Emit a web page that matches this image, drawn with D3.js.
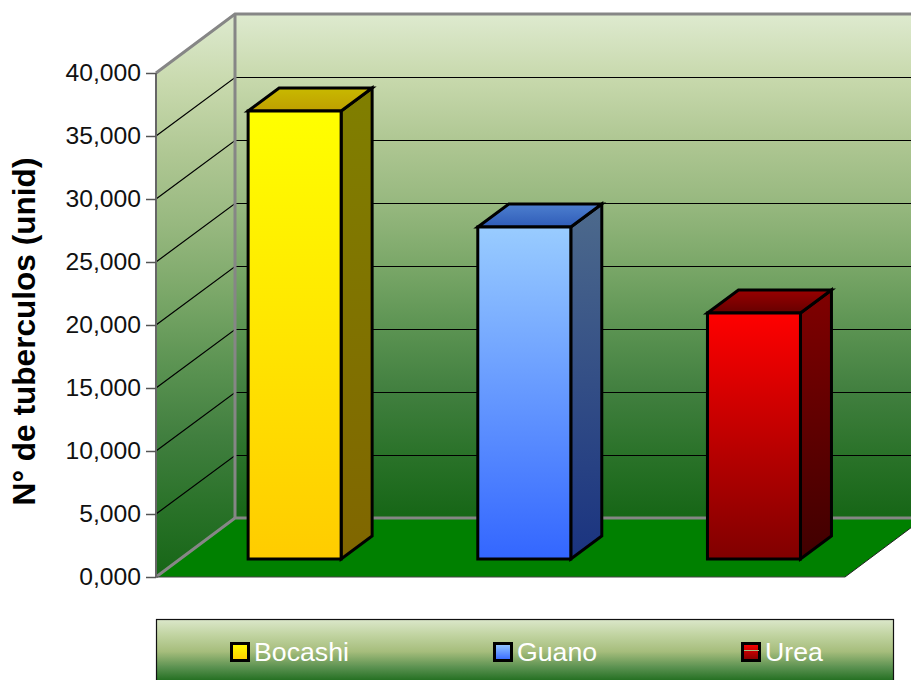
<!DOCTYPE html>
<html><head><meta charset="utf-8">
<style>html,body{margin:0;padding:0;background:#fff;overflow:hidden}svg{display:block}text{font-family:"Liberation Sans",Arial,sans-serif}</style>
<script src="https://cdn.jsdelivr.net/npm/d3@7"></script></head>
<body><svg id="c" width="911" height="680"></svg>
<script>
const categories = ["Bocashi","Guano","Urea"];
const values = [35550,26350,19530];
const tickValues = [0,5000,10000,15000,20000,25000,30000,35000,40000];
const tickLabels = ["0,000","5,000","10,000","15,000","20,000","25,000","30,000","35,000","40,000"];
const axisTitle = "N° de tuberculos (unid)";
const frontCols = [["#ffff00","#ffcc00"],["#99ccff","#3366ff"],["#ff0000","#800000"]];
const topCols = [["#c8b900","#bf9f00"],["#4d7fcf","#2f5cb8"],["#990000","#660000"]];
const sideCols = [["#807f00","#806600"],["#4d6a8c","#1a3380"],["#800000","#400000"]];

const W=911,H=680, x0=156,x1=845,yB=577,yT=73,dx=79,dy=-59;
const svg=d3.select("#c"), defs=svg.append("defs");
const y=d3.scaleLinear().domain([0,40000]).range([yB,yT]);
const x=d3.scaleBand().domain(categories).range([x0,x1]).paddingInner(0.595).paddingOuter(0.2975);
const barW=93, barDx=23.8, barDy=-18, depthX=31, depthY=-23;

function grad(id,stops){
  const g=defs.append("linearGradient").attr("id",id).attr("x1",0).attr("y1",0).attr("x2",0).attr("y2",1);
  stops.forEach(([o,c])=>g.append("stop").attr("offset",o).attr("stop-color",c));
  return `url(#${id})`;
}
const wallStops=[[0,"#deeacf"],[0.125,"#c8d9ad"],[0.25,"#afc793"],[0.375,"#97b87f"],[0.5,"#7aa768"],[0.625,"#5b9352"],[0.75,"#417f3f"],[0.875,"#2a7229"],[1,"#166616"]];
const wall=grad("wall",wallStops);
const sideWall=grad("sidewall",wallStops);
const legendFill=grad("legend",[[0,"#dbe7ca"],[0.25,"#c0d3a0"],[0.5,"#a6bd7c"],[0.75,"#5a9150"],[1,"#176817"]]);
const line=d3.line();

// back wall, side wall, floor
svg.append("path").attr("d",line([[x0+dx,y(40000)+dy],[x1+dx,y(40000)+dy],[x1+dx,yB+dy],[x0+dx,yB+dy]])+"Z").attr("fill",wall);
svg.append("path").attr("d",line([[x0,yT],[x0+dx,yT+dy],[x0+dx,yB+dy],[x0,yB]])+"Z").attr("fill",sideWall);
svg.append("path").attr("d",line([[x0,yB],[x1,yB],[x1+dx,yB+dy],[x0+dx,yB+dy]])+"Z").attr("fill","#008000");

// gridlines
tickValues.filter(v=>v>0&&v<40000).forEach(v=>{
  svg.append("path").attr("d",line([[x0,y(v)],[x0+dx,y(v)+dy+0.5],[x1+dx,y(v)+dy+0.5]])).attr("fill","none").attr("stroke","#000").attr("stroke-width",1.2);
});
// wall frame
svg.append("path").attr("d",line([[x0,yT],[x0+dx,yT+dy],[x1+dx,yT+dy]])).attr("fill","none").attr("stroke","#868686").attr("stroke-width",3);
svg.append("path").attr("d",line([[x0+dx,yT+dy],[x0+dx,yB+dy]])).attr("fill","none").attr("stroke","#868686").attr("stroke-width",3);
svg.append("path").attr("d",line([[x0,yB],[x0+dx,yB+dy],[x1+dx,yB+dy]])).attr("fill","none").attr("stroke","#868686").attr("stroke-width",3);
svg.append("path").attr("d",line([[x1,yB],[x1+dx,yB+dy]])).attr("fill","none").attr("stroke","#222").attr("stroke-width",1);
svg.append("path").attr("d",line([[x0,yB],[x1,yB]])).attr("fill","none").attr("stroke","#444").attr("stroke-width",1.2);

// y axis
const axis=d3.axisLeft(y).tickValues(tickValues).tickFormat((d,i)=>tickLabels[i]).tickSize(10).tickPadding(5);
const ga=svg.append("g").attr("transform",`translate(${x0},0)`).call(axis);
ga.select(".domain").attr("stroke","#666").attr("stroke-width",2).attr("d",`M0,${yT}V${yB}`);
ga.selectAll(".tick line").attr("stroke","#555").attr("stroke-width",1.5);
ga.selectAll("text").attr("font-size",24.7).attr("fill","#111").style("font-family",'"Liberation Sans",Arial,sans-serif');

svg.append("text").attr("transform","translate(35,331.5) rotate(-90)").attr("text-anchor","middle")
  .attr("font-size",31.6).attr("font-weight","bold").attr("fill","#000").text(axisTitle);

// bars
categories.forEach((c,i)=>{
  const bx=x(c)+barDx, b=yB+barDy, t=y(values[i])+barDy;
  const g=svg.append("g");
  const st={stroke:"#000","stroke-width":3,"stroke-linejoin":"miter"};
  const add=(pts,fill)=>{const p=g.append("path").attr("d",line(pts)+"Z").attr("fill",fill);Object.entries(st).forEach(([k,v])=>p.attr(k,v));};
  add([[bx+barW,t],[bx+barW+depthX,t+depthY],[bx+barW+depthX,b+depthY],[bx+barW,b]],grad("s"+i,[[0,sideCols[i][0]],[1,sideCols[i][1]]]));
  add([[bx,t],[bx+depthX,t+depthY],[bx+barW+depthX,t+depthY],[bx+barW,t]],grad("t"+i,[[0,topCols[i][0]],[1,topCols[i][1]]]));
  add([[bx,t],[bx+barW,t],[bx+barW,b],[bx,b]],grad("f"+i,[[0,frontCols[i][0]],[1,frontCols[i][1]]]));
});

// legend
svg.append("rect").attr("x",156.5).attr("y",619.5).attr("width",737).attr("height",64).attr("fill",legendFill).attr("stroke","#111").attr("stroke-width",1.2);
const legendX=d3.scalePoint().domain(categories).range([230,741]);
categories.forEach((c,i)=>{
  const lx=legendX(c)+(i==1?7.5:0);
  svg.append("rect").attr("x",lx+1.5).attr("y",643.5).attr("width",17).attr("height",17)
    .attr("fill",grad("lg"+i,[[0,frontCols[i][0]],[1,frontCols[i][1]]])).attr("stroke","#000").attr("stroke-width",3);
  svg.append("text").attr("x",lx+24).attr("y",661).attr("font-size",26.7).attr("fill","#fff").text(c);
});
svg.append("line").attr("x1",legendX("Urea")+3).attr("x2",legendX("Urea")+18).attr("y1",650.5).attr("y2",650.5).attr("stroke","#a9bd82").attr("stroke-width",1);
</script></body></html>
